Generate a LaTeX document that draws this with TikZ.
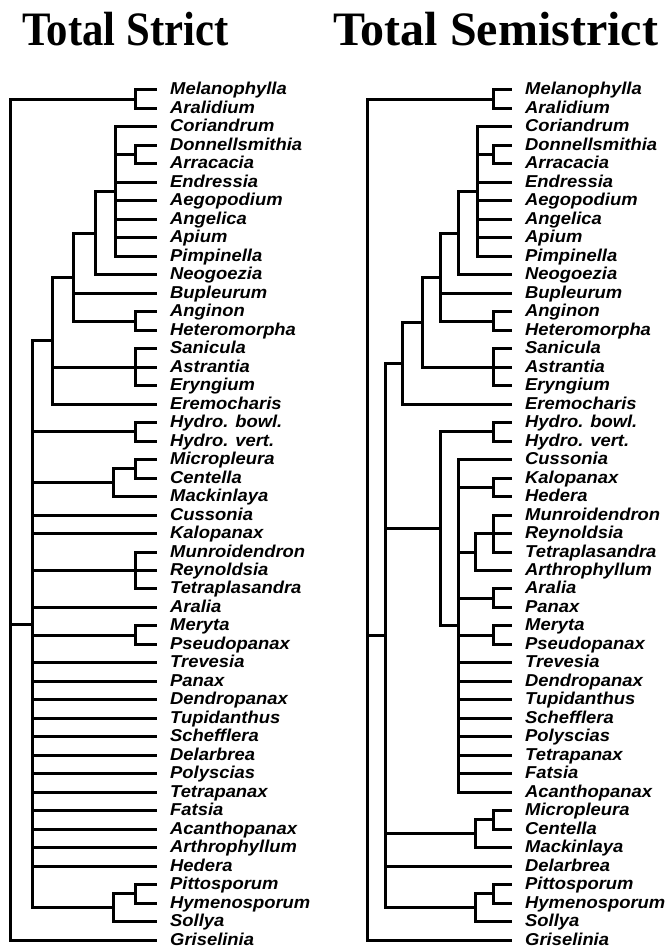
\documentclass[tikz,border=0pt]{standalone}
\usepackage{fontspec}
\setmainfont{Liberation Serif}
\newfontfamily\leaffont[FakeStretch=1.07]{Liberation Sans}
\newfontfamily\titlefont[FakeStretch=0.89]{Liberation Serif}
\newfontfamily\titlefontw[FakeStretch=1.0]{Liberation Serif}
\newcommand\edges[2]{\foreach \c in {#2} {\draw[branch] (#1) |- (\c);}}
\begin{document}
\begin{tikzpicture}[x=1pt,y=-1pt,
  declare function={ly(\i)=90+18.48*\i;},
  branch/.style={line width=3pt,line join=miter,black},
  leaf/.style={anchor=base west,inner sep=0pt,font=\leaffont\bfseries\itshape\fontsize{17.2}{20}\selectfont},
  ttl/.style={anchor=base west,inner sep=0pt,font=\titlefont\bfseries\fontsize{48}{54}\selectfont},
  ttlw/.style={anchor=base west,inner sep=0pt,font=\titlefontw\bfseries\fontsize{48}{54}\selectfont}]
\fill[white] (0,0) rectangle (669,947);
\useasboundingbox (0,0) rectangle (669,947);
\node[ttl] (t1) at (22,46) {Total Strict};
\node[ttlw] (t2) at (333,46) {Total Semistrict};
% ---------- left tree ----------
\foreach \n [count=\k from 0] in {Melanophylla,Aralidium,Coriandrum,Donnellsmithia,Arracacia,Endressia,Aegopodium,Angelica,Apium,Pimpinella,Neogoezia,Bupleurum,Anginon,Heteromorpha,Sanicula,Astrantia,Eryngium,Eremocharis,Hydro. bowl.,Hydro. vert.,Micropleura,Centella,Mackinlaya,Cussonia,Kalopanax,Munroidendron,Reynoldsia,Tetraplasandra,Aralia,Meryta,Pseudopanax,Trevesia,Panax,Dendropanax,Tupidanthus,Schefflera,Delarbrea,Polyscias,Tetrapanax,Fatsia,Acanthopanax,Arthrophyllum,Hedera,Pittosporum,Hymenosporum,Sollya,Griselinia}
{
  \coordinate (lt\k) at (157,{ly(\k)});
  \node[leaf] (ln\k) at (170,{ly(\k)+5}) {\n};
}
\coordinate (aR) at (10,{ly(23.25)});
\coordinate (a1) at (135,{ly(0.5)});
\coordinate (a2) at (135,{ly(3.5)});
\coordinate (a3) at (115,{ly(5.5)});
\coordinate (a4) at (95,{ly(7.75)});
\coordinate (a5) at (135,{ly(12.5)});
\coordinate (a6) at (73,{ly(10.125)});
\coordinate (a7) at (135,{ly(15)});
\coordinate (a8) at (52,{ly(13.5625)});
\coordinate (a9) at (135,{ly(18.5)});
\coordinate (a10) at (135,{ly(20.5)});
\coordinate (a11) at (113,{ly(21.25)});
\coordinate (a12) at (135,{ly(26)});
\coordinate (a13) at (135,{ly(29.5)});
\coordinate (a14) at (135,{ly(43.5)});
\coordinate (a15) at (113,{ly(44.25)});
\coordinate (a16) at (32,{ly(28.90625)});
\edges{aR}{a1,a16,lt46}
\edges{a1}{lt0,lt1}
\edges{a16}{a8,a9,a11,lt23,lt24,a12,lt28,a13,lt31,lt32,lt33,lt34,lt35,lt36,lt37,lt38,lt39,lt40,lt41,lt42,a15}
\edges{a8}{a6,a7,lt17}
\edges{a6}{a4,lt11,a5}
\edges{a4}{a3,lt10}
\edges{a3}{lt2,a2,lt5,lt6,lt7,lt8,lt9}
\edges{a2}{lt3,lt4}
\edges{a5}{lt12,lt13}
\edges{a7}{lt14,lt15,lt16}
\edges{a9}{lt18,lt19}
\edges{a11}{a10,lt22}
\edges{a10}{lt20,lt21}
\edges{a12}{lt25,lt26,lt27}
\edges{a13}{lt29,lt30}
\edges{a15}{a14,lt45}
\edges{a14}{lt43,lt44}
% ---------- right tree ----------
\foreach \n [count=\k from 0] in {Melanophylla,Aralidium,Coriandrum,Donnellsmithia,Arracacia,Endressia,Aegopodium,Angelica,Apium,Pimpinella,Neogoezia,Bupleurum,Anginon,Heteromorpha,Sanicula,Astrantia,Eryngium,Eremocharis,Hydro. bowl.,Hydro. vert.,Cussonia,Kalopanax,Hedera,Munroidendron,Reynoldsia,Tetraplasandra,Arthrophyllum,Aralia,Panax,Meryta,Pseudopanax,Trevesia,Dendropanax,Tupidanthus,Schefflera,Polyscias,Tetrapanax,Fatsia,Acanthopanax,Micropleura,Centella,Mackinlaya,Delarbrea,Pittosporum,Hymenosporum,Sollya,Griselinia}
{
  \coordinate (rt\k) at (512,{ly(\k)});
  \node[leaf] (rn\k) at (525,{ly(\k)+5}) {\n};
}
\coordinate (bR) at (367,{ly(23.25)});
\coordinate (b1) at (493,{ly(0.5)});
\coordinate (b2) at (493,{ly(3.5)});
\coordinate (b3) at (477,{ly(5.5)});
\coordinate (b4) at (458,{ly(7.75)});
\coordinate (b5) at (493,{ly(12.5)});
\coordinate (b6) at (440,{ly(10.125)});
\coordinate (b7) at (493,{ly(15)});
\coordinate (b8) at (422,{ly(12.5625)});
\coordinate (b9) at (402,{ly(14.78125)});
\coordinate (b10) at (493,{ly(18.5)});
\coordinate (b11) at (493,{ly(21.5)});
\coordinate (b12) at (493,{ly(24)});
\coordinate (b13) at (475,{ly(25)});
\coordinate (b14) at (493,{ly(27.5)});
\coordinate (b15) at (493,{ly(29.5)});
\coordinate (b16) at (458,{ly(29)});
\coordinate (b17) at (440,{ly(23.75)});
\coordinate (b18) at (493,{ly(39.5)});
\coordinate (b19) at (475,{ly(40.25)});
\coordinate (b20) at (493,{ly(43.5)});
\coordinate (b21) at (475,{ly(44.25)});
\coordinate (b22) at (385,{ly(29.515625)});
\edges{bR}{b1,b22,rt46}
\edges{b1}{rt0,rt1}
\edges{b22}{b9,b17,b19,rt42,b21}
\edges{b9}{b8,rt17}
\edges{b8}{b6,b7}
\edges{b6}{b4,rt11,b5}
\edges{b4}{b3,rt10}
\edges{b3}{rt2,b2,rt5,rt6,rt7,rt8,rt9}
\edges{b2}{rt3,rt4}
\edges{b5}{rt12,rt13}
\edges{b7}{rt14,rt15,rt16}
\edges{b17}{b10,b16}
\edges{b10}{rt18,rt19}
\edges{b16}{rt20,b11,b13,b14,b15,rt31,rt32,rt33,rt34,rt35,rt36,rt37,rt38}
\edges{b11}{rt21,rt22}
\edges{b13}{b12,rt26}
\edges{b12}{rt23,rt24,rt25}
\edges{b14}{rt27,rt28}
\edges{b15}{rt29,rt30}
\edges{b19}{b18,rt41}
\edges{b18}{rt39,rt40}
\edges{b21}{b20,rt45}
\edges{b20}{rt43,rt44}
\end{tikzpicture}
\end{document}
